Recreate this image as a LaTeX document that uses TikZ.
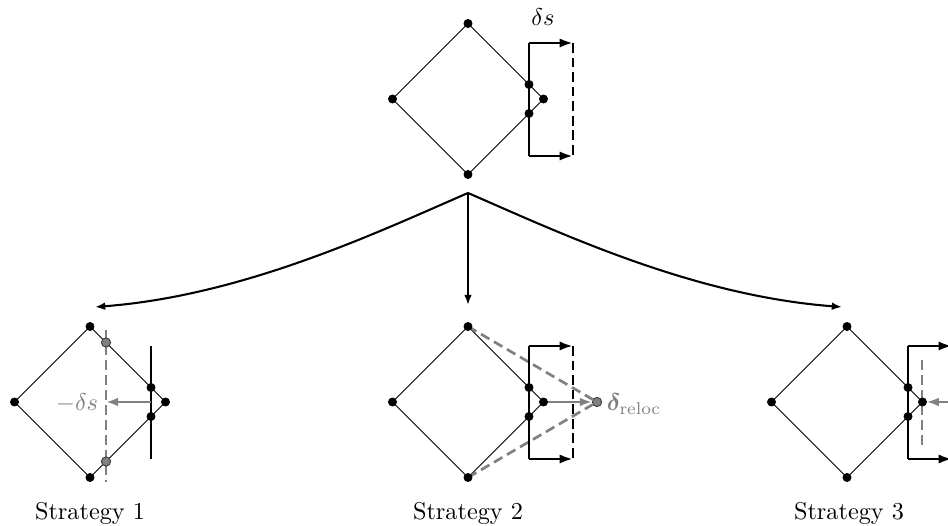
\documentclass[tikz,border=0pt]{standalone}
\usepackage{amsmath}
\usepackage{bm}
\usetikzlibrary{arrows.meta}

\begin{document}
\begin{tikzpicture}[x=0.412pt,y=-0.412pt,
  edge/.style={line width=0.4pt},
  bar/.style={line width=1.2pt},
  bardash/.style={line width=1.2pt,dash pattern=on 4pt off 2pt},
  graydash/.style={gray,line width=1.1pt,dash pattern=on 4pt off 2.2pt},
  bartip/.style={-{Latex[length=5.5pt,width=3.8pt]}},
  fantip/.style={-{Latex[length=4.2pt,width=3.2pt]}},
  graytip/.style={gray,line width=1pt,-{Latex[length=5pt,width=3.6pt]}},
  dot/.style={circle,fill=black,inner sep=0pt,minimum size=3.7pt},
  gdot/.style={circle,fill=gray,draw=black!75,line width=0.4pt,inner sep=0pt,minimum size=3.8pt},
  caption/.style={font=\normalsize}]
\useasboundingbox (0,0) rectangle (948,526);

% four diamonds: vertices, crossings with the moved face, and its bar
\foreach \n/\cx/\cy in {top/468/99, s1/90/402, s2/468/402, s3/847/402}{
  \coordinate (\n) at (\cx,\cy);
  \coordinate (\n-t) at (\cx,\cy-75.5);
  \coordinate (\n-r) at (\cx+75.5,\cy);
  \coordinate (\n-b) at (\cx,\cy+75.5);
  \coordinate (\n-l) at (\cx-75.5,\cy);
  \coordinate (\n-ua) at (\cx+61,\cy-14.5);
  \coordinate (\n-la) at (\cx+61,\cy+14.5);
  \coordinate (\n-bt) at (\cx+61,\cy-56);
  \coordinate (\n-bm) at (\cx+61,\cy);
  \coordinate (\n-bb) at (\cx+61,\cy+57);
  \coordinate (\n-at) at (\cx+105,\cy-56);
  \coordinate (\n-ab) at (\cx+105,\cy+57);
  \draw[edge] (\n-t) -- (\n-r) -- (\n-b) -- (\n-l) -- cycle;
}

% original configuration with the face displacement
\draw[bar] (top-bt) -- (top-bb);
\draw[bar,bartip] (top-bt) -- (top-at);
\draw[bar,bartip] (top-bb) -- (top-ab);
\draw[bardash] (top-at) -- (top-ab);
\node (ds) at (543,17) {$\delta s$};

% branching arrows
\coordinate (fan) at (468,193);
\coordinate (to1) at (95,307);
\coordinate (to2) at (468,305);
\coordinate (to3) at (842,307);
\draw[line width=0.85pt,fantip] (fan) .. controls (378,232) and (244.2,295.6) .. (to1);
\draw[line width=0.85pt,fantip] (fan) -- (to2);
\draw[line width=0.85pt,fantip] (fan) .. controls (558,232) and (691.8,295.6) .. (to3);

% strategy 1: the diamond is cut back by -ds
\coordinate (s1-dt) at (106,330);
\coordinate (s1-db) at (106,482);
\coordinate (s1-dm) at (106,402);
\draw[graydash] (s1-dt) -- (s1-db);
\draw[bar] (s1-bt) -- (s1-bb);
\draw[graytip] (s1-bm) -- (s1-dm);
\node[gray,anchor=east,inner sep=1pt] (mds) at (101,403) {$-\delta s$};
\node[gdot] (s1-gu) at (106,342.5) {};
\node[gdot] (s1-gl) at (106,461.5) {};

% strategy 2: the apex is relocated
\node[gdot] (s2-g) at (597,402) {};
\draw[graydash] (s2-t) -- (s2-g);
\draw[graydash] (s2-b) -- (s2-g);
\draw[bar] (s2-bt) -- (s2-bb);
\draw[bar,bartip] (s2-bt) -- (s2-at);
\draw[bar,bartip] (s2-bb) -- (s2-ab);
\draw[bardash] (s2-at) -- (s2-ab);
\draw[graytip] (s2-r) -- (s2-g);
\node[gray,anchor=west,inner sep=1pt] (drel) at (604,404) {$\bm{\delta}_{\mathrm{reloc}}$};

% strategy 3: the face is pulled back to the apex
\coordinate (s3-dt) at (922,360);
\coordinate (s3-db) at (922,447);
\coordinate (s3-in) at (957,402);
\draw[graydash] (s3-dt) -- (s3-db);
\draw[bar] (s3-bt) -- (s3-bb);
\draw[bar,bartip] (s3-bt) -- (s3-at);
\draw[bar,bartip] (s3-bb) -- (s3-ab);
\draw[graytip,shorten >=1.7pt] (s3-in) -- (s3-r);

% vertex and crossing dots
\foreach \n in {top,s1,s2,s3}{
  \foreach \v in {t,r,b,l,ua,la}{
    \node[dot] at (\n-\v) {};
  }
}

% captions
\node[caption] (c1) at (90,513) {Strategy 1};
\node[caption] (c2) at (468,513) {Strategy 2};
\node[caption] (c3) at (849,513) {Strategy 3};
\end{tikzpicture}
\end{document}
